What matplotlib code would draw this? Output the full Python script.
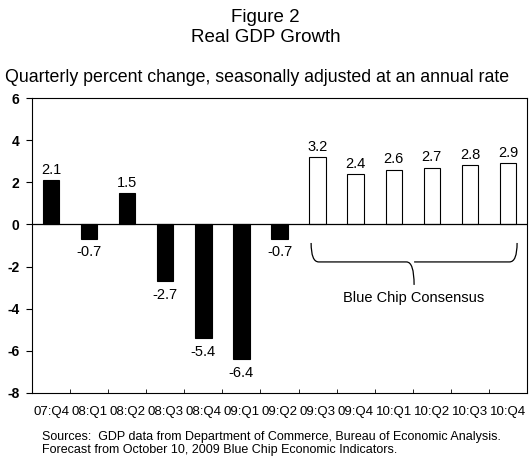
import matplotlib.pyplot as plt
import numpy as np
from matplotlib.path import Path
from matplotlib.patches import PathPatch

plt.rcParams['font.family'] = ['Liberation Sans', 'DejaVu Sans']
plt.rcParams['axes.unicode_minus'] = False

quarters = ['07:Q4', '08:Q1', '08:Q2', '08:Q3', '08:Q4', '09:Q1', '09:Q2',
            '09:Q3', '09:Q4', '10:Q1', '10:Q2', '10:Q3', '10:Q4']
actual = [2.1, -0.7, 1.5, -2.7, -5.4, -6.4, -0.7]
forecast = [3.2, 2.4, 2.6, 2.7, 2.8, 2.9]

fig = plt.figure(figsize=(5.31, 4.59), dpi=100)
ax = fig.add_axes([32/531, 1 - 393/459, 495/531, 295/459])

x = np.arange(len(quarters))
values = actual + forecast
n_act = len(actual)
width = 0.43

ax.bar(x[:n_act], actual, width, color='black', edgecolor='black', linewidth=0.8)
ax.bar(x[n_act:], forecast, width, color='white', edgecolor='black', linewidth=0.8)

for xi, v in zip(x, values):
    if v >= 0:
        ax.text(xi, v + 0.15, f'{v:.1f}', ha='center', va='bottom', fontsize=10.5)
    else:
        ax.text(xi, v - 0.3, f'{v:.1f}', ha='center', va='top', fontsize=10.5)

ax.axhline(0, color='black', linewidth=0.9)

# brace under the forecast bars
x0, x1 = n_act - 0.17, len(quarters) - 1 + 0.24
xm = (x0 + x1) / 2
top, mid, tip = -0.88, -1.78, -2.87
r = 0.2
verts = [(x0, top), (x0, mid), (x0 + r, mid),
         (xm - r, mid), (xm, mid), (xm, tip),
         (xm, mid), (xm + r, mid),
         (x1 - r, mid), (x1, mid), (x1, top)]
codes = [Path.MOVETO, Path.CURVE3, Path.CURVE3,
         Path.LINETO, Path.CURVE3, Path.CURVE3,
         Path.MOVETO, Path.LINETO,
         Path.LINETO, Path.CURVE3, Path.CURVE3]
ax.add_patch(PathPatch(Path(verts, codes), facecolor='none', edgecolor='black', linewidth=0.9))
ax.text(xm, -3.5, 'Blue Chip Consensus', ha='center', va='center', fontsize=10.5)

ax.set_xlim(-0.5, len(quarters) - 0.5)
ax.set_ylim(-8, 6)
ax.set_yticks(range(-8, 7, 2))
ax.set_xticks(x)
ax.set_xticklabels(quarters, fontsize=9.5)
ax.set_xticks(np.arange(-0.5, len(quarters), 1), minor=True)
ax.tick_params(axis='x', which='major', length=0, pad=9)
ax.tick_params(axis='x', which='minor', length=3, direction='in')
ax.tick_params(axis='y', length=4, direction='out', labelsize=10, pad=5)
for lbl in ax.get_yticklabels():
    lbl.set_fontweight('bold')
for s in ax.spines.values():
    s.set_linewidth(0.8)

fig.text(0.5, 1 - 18/459, 'Figure 2', ha='center', va='center', fontsize=13.5)
fig.text(0.5, 1 - 38/459, 'Real GDP Growth', ha='center', va='center', fontsize=13.5)
fig.text(5/531, 1 - 77/459, 'Quarterly percent change, seasonally adjusted at an annual rate',
         ha='left', va='center', fontsize=12.8)
fig.text(42/531, 1 - 437/459,
         'Sources:  GDP data from Department of Commerce, Bureau of Economic Analysis.',
         ha='left', va='center', fontsize=9)
fig.text(42/531, 1 - 450/459,
         'Forecast from October 10, 2009 Blue Chip Economic Indicators.',
         ha='left', va='center', fontsize=9)

fig.savefig('out.png', dpi=100)
